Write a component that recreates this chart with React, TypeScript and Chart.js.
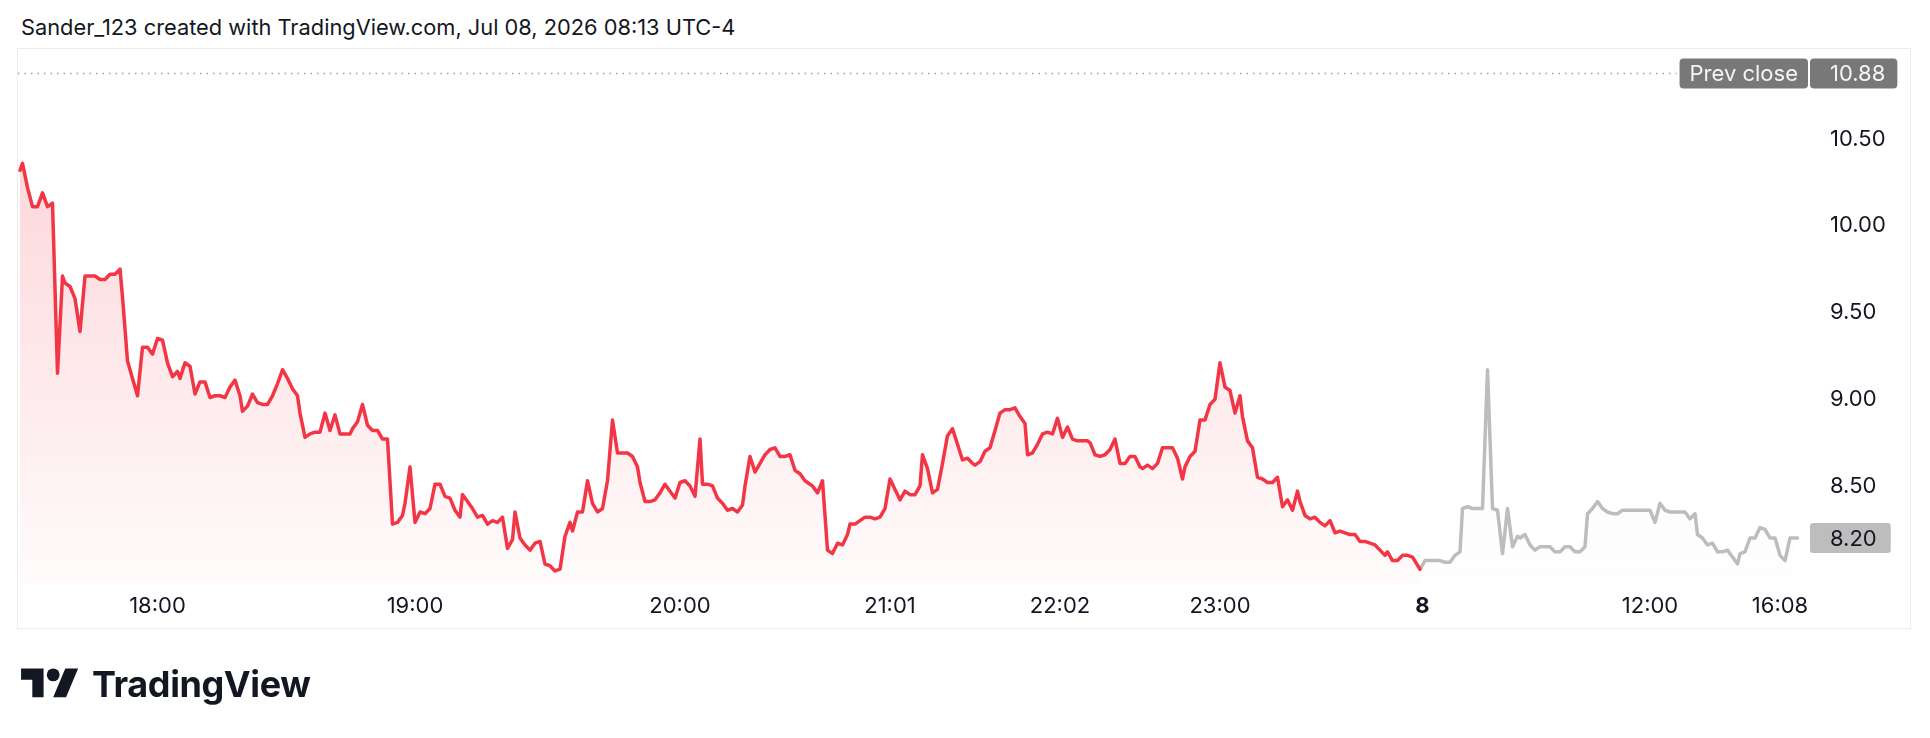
import React, { useEffect, useRef } from 'react';
import { Chart, registerables } from 'chart.js';

Chart.register(...registerables);

// Bar index (x) and price (y) of the regular part of the line
const redX = [0, 1, 3, 5, 7, 9, 11, 13, 15, 17, 18, 20, 22, 24, 26, 30, 32, 34, 36, 38, 40, 41, 43, 45, 47, 49, 51, 53, 55, 57, 59, 61, 63, 64, 66, 68, 70, 72, 74, 76, 78, 80, 82, 84, 86, 88, 89, 91, 93, 95, 97, 99, 101, 103, 105, 107, 109, 111, 112, 114, 116, 118, 120, 122, 124, 126, 128, 130, 132, 133, 135, 137, 139, 141, 143, 145, 147, 149, 151, 153, 154, 156, 158, 160, 162, 164, 166, 168, 170, 172, 174, 176, 177, 179, 181, 183, 185, 187, 189, 191, 193, 195, 197, 198, 200, 202, 204, 206, 208, 210, 212, 214, 216, 218, 220, 221, 223, 225, 227, 229, 231, 233, 235, 237, 239, 241, 243, 245, 247, 248, 250, 252, 254, 256, 258, 260, 262, 264, 266, 268, 270, 272, 273, 275, 277, 279, 281, 283, 285, 287, 289, 290, 292, 294, 296, 298, 300, 302, 304, 306, 308, 310, 312, 314, 315, 317, 319, 321, 323, 325, 327, 329, 331, 332, 334, 336, 338, 340, 342, 344, 346, 348, 350, 352, 354, 356, 358, 360, 361, 363, 365, 367, 369, 371, 373, 375, 377, 379, 381, 382, 384, 386, 388, 390, 392, 394, 396, 398, 400, 402, 403, 405, 407, 409, 411, 413, 415, 417, 419, 421, 423, 427, 428, 430, 432, 434, 436, 438, 440, 442, 444, 446, 448, 449, 451, 453, 455, 457, 459, 461, 463, 465, 466, 468, 470, 472, 474, 476, 478, 480, 482, 484, 486, 488, 489, 491, 493, 495, 497, 499, 501, 503, 505, 507, 509, 511, 512, 514, 516, 518, 520, 522, 524, 526, 528, 530, 532, 534, 536, 538, 540, 542, 544, 546, 547, 549, 551, 553, 555, 557, 560];
const redY = [10.32, 10.36, 10.22, 10.11, 10.11, 10.19, 10.11, 10.13, 9.15, 9.71, 9.67, 9.65, 9.58, 9.39, 9.71, 9.71, 9.69, 9.69, 9.72, 9.72, 9.75, 9.59, 9.22, 9.12, 9.02, 9.30, 9.30, 9.26, 9.35, 9.34, 9.21, 9.13, 9.16, 9.12, 9.21, 9.19, 9.03, 9.10, 9.10, 9.01, 9.02, 9.02, 9.01, 9.07, 9.11, 9.02, 8.93, 8.96, 9.03, 8.98, 8.97, 8.97, 9.02, 9.09, 9.17, 9.12, 9.06, 9.02, 8.92, 8.78, 8.80, 8.81, 8.81, 8.92, 8.82, 8.91, 8.80, 8.80, 8.80, 8.83, 8.87, 8.97, 8.85, 8.82, 8.82, 8.77, 8.77, 8.28, 8.29, 8.33, 8.40, 8.61, 8.29, 8.35, 8.34, 8.37, 8.51, 8.51, 8.44, 8.43, 8.36, 8.32, 8.45, 8.41, 8.37, 8.32, 8.33, 8.28, 8.30, 8.29, 8.32, 8.14, 8.19, 8.35, 8.20, 8.16, 8.13, 8.17, 8.18, 8.05, 8.04, 8.01, 8.02, 8.21, 8.29, 8.24, 8.35, 8.35, 8.53, 8.40, 8.35, 8.37, 8.53, 8.88, 8.69, 8.69, 8.69, 8.67, 8.61, 8.52, 8.41, 8.41, 8.42, 8.46, 8.51, 8.47, 8.43, 8.52, 8.53, 8.50, 8.44, 8.77, 8.51, 8.51, 8.50, 8.43, 8.40, 8.36, 8.37, 8.35, 8.39, 8.50, 8.67, 8.58, 8.63, 8.68, 8.71, 8.72, 8.67, 8.67, 8.68, 8.59, 8.57, 8.53, 8.52, 8.50, 8.46, 8.53, 8.13, 8.11, 8.17, 8.16, 8.22, 8.28, 8.28, 8.30, 8.32, 8.32, 8.31, 8.32, 8.37, 8.54, 8.48, 8.42, 8.47, 8.45, 8.45, 8.50, 8.68, 8.60, 8.46, 8.48, 8.63, 8.79, 8.83, 8.74, 8.65, 8.66, 8.63, 8.62, 8.64, 8.70, 8.72, 8.82, 8.92, 8.94, 8.94, 8.95, 8.90, 8.86, 8.68, 8.69, 8.74, 8.80, 8.81, 8.80, 8.89, 8.78, 8.84, 8.77, 8.76, 8.76, 8.75, 8.68, 8.67, 8.68, 8.71, 8.77, 8.63, 8.63, 8.67, 8.67, 8.61, 8.60, 8.62, 8.60, 8.63, 8.72, 8.72, 8.72, 8.66, 8.54, 8.61, 8.67, 8.70, 8.88, 8.88, 8.97, 9.00, 9.21, 9.07, 9.05, 8.92, 9.02, 8.90, 8.76, 8.72, 8.55, 8.54, 8.52, 8.52, 8.55, 8.38, 8.42, 8.36, 8.47, 8.41, 8.33, 8.31, 8.32, 8.29, 8.27, 8.30, 8.23, 8.24, 8.23, 8.22, 8.22, 8.18, 8.18, 8.17, 8.16, 8.13, 8.10, 8.12, 8.07, 8.07, 8.10, 8.10, 8.09, 8.02];

// Bar index (x) and price (y) of the grey part of the line
const grayX = [560, 562, 564, 566, 568, 570, 572, 574, 576, 577, 579, 581, 585, 587, 589, 591, 593, 595, 597, 599, 600, 602, 604, 606, 608, 610, 612, 614, 616, 618, 620, 622, 624, 626, 627, 629, 631, 633, 635, 637, 639, 641, 644, 648, 652, 654, 656, 658, 660, 663, 666, 668, 670, 671, 673, 675, 677, 679, 681, 683, 685, 687, 688, 690, 692, 694, 696, 698, 700, 702, 704, 706, 708, 711];
const grayY = [8.02, 8.07, 8.07, 8.07, 8.07, 8.06, 8.06, 8.10, 8.12, 8.37, 8.38, 8.37, 8.37, 9.17, 8.37, 8.36, 8.11, 8.37, 8.15, 8.21, 8.20, 8.22, 8.16, 8.13, 8.15, 8.15, 8.15, 8.12, 8.12, 8.15, 8.15, 8.12, 8.12, 8.15, 8.34, 8.37, 8.41, 8.37, 8.35, 8.34, 8.34, 8.36, 8.36, 8.36, 8.36, 8.29, 8.40, 8.36, 8.35, 8.35, 8.35, 8.31, 8.34, 8.22, 8.20, 8.16, 8.17, 8.12, 8.12, 8.13, 8.09, 8.05, 8.11, 8.12, 8.20, 8.20, 8.26, 8.25, 8.20, 8.20, 8.10, 8.07, 8.20, 8.20];

// Time axis tick positions (bar index) and labels
const xTickIdx = [55, 158, 264, 348, 416, 480, 561, 652, 704];
const xTickLabels = ['18:00', '19:00', '20:00', '21:01', '22:02', '23:00', '8', '12:00', '16:08'];
const boldTickLabel = '8';

// Price axis ticks
const yTicks = [8.5, 9.0, 9.5, 10.0, 10.5];

const prevClose = 10.88;
const lastPrice = 8.2;
const prevCloseLabel = 'Prev close';

const FONT = 'Inter, "Noto Sans", sans-serif';
const RED = '#F23645';
const GREY = '#BDBDBD';

const tagsPlugin = {
  id: 'tags',
  afterDatasetsDraw(chart: any) {
    const { ctx, chartArea, scales } = chart;
    const ys = scales.y;
    ctx.save();
    ctx.font = `22px ${FONT}`;
    ctx.textBaseline = 'middle';
    const boxH = 30;

    // Prev close line + tags
    const py = Math.round(ys.getPixelForValue(prevClose)) + 0.5;
    const lw = ctx.measureText(prevCloseLabel).width;
    const vText = prevClose.toFixed(2);
    const vw = ctx.measureText(vText).width;
    const tagLeft = chartArea.right;
    const labelRight = tagLeft - 2;
    const labelLeft = labelRight - lw - 20;
    ctx.strokeStyle = '#9a9da6';
    ctx.lineWidth = 1.5;
    ctx.setLineDash([1.5, 5]);
    ctx.beginPath();
    ctx.moveTo(chartArea.left - 2, py);
    ctx.lineTo(labelLeft - 3, py);
    ctx.stroke();
    ctx.setLineDash([]);

    ctx.fillStyle = '#787878';
    ctx.beginPath();
    ctx.roundRect(labelLeft, py - boxH / 2, lw + 20, boxH, 4);
    ctx.fill();
    ctx.beginPath();
    ctx.roundRect(tagLeft, py - boxH / 2, vw + 32, boxH, 4);
    ctx.fill();
    ctx.fillStyle = '#f4f4f4';
    ctx.textAlign = 'left';
    ctx.fillText(prevCloseLabel, labelLeft + 10, py + 1);
    ctx.fillText(vText, tagLeft + 20, py + 1);

    // Last price tag
    const ly = ys.getPixelForValue(lastPrice);
    const lText = lastPrice.toFixed(2);
    const ltw = ctx.measureText(lText).width;
    ctx.fillStyle = GREY;
    ctx.beginPath();
    ctx.roundRect(tagLeft, ly - boxH / 2, ltw + 34, boxH, 3);
    ctx.fill();
    ctx.fillStyle = '#131722';
    ctx.fillText(lText, tagLeft + 20, ly + 1);
    ctx.restore();
  },
};

function gradient(chart: any, top: string, bottom: string) {
  const { ctx, chartArea } = chart;
  if (!chartArea) return top;
  const g = ctx.createLinearGradient(0, chartArea.top + 100, 0, chartArea.bottom);
  g.addColorStop(0, top);
  g.addColorStop(1, bottom);
  return g;
}

export default function App() {
  const ref = useRef<HTMLCanvasElement | null>(null);

  useEffect(() => {
    if (!ref.current) return;
    const chart = new Chart(ref.current, {
      type: 'line',
      data: {
        datasets: [
          {
            data: redX.map((x, i) => ({ x, y: redY[i] })),
            borderColor: RED,
            borderWidth: 3.5,
            borderJoinStyle: 'round',
            borderCapStyle: 'round',
            pointRadius: 0,
            tension: 0,
            fill: 'start',
            clip: 6,
            backgroundColor: (c: any) => gradient(c.chart, 'rgba(242,54,69,0.20)', 'rgba(242,54,69,0.02)'),
          },
          {
            data: grayX.map((x, i) => ({ x, y: grayY[i] })),
            borderColor: GREY,
            borderWidth: 3.5,
            borderJoinStyle: 'round',
            borderCapStyle: 'round',
            pointRadius: 0,
            tension: 0,
            fill: 'start',
            clip: 6,
            backgroundColor: (c: any) => gradient(c.chart, 'rgba(190,190,190,0.10)', 'rgba(190,190,190,0.01)'),
          },
        ],
      },
      options: {
        animation: false,
        responsive: false,
        devicePixelRatio: 1,
        events: [],
        layout: { padding: { left: 20, top: 49, right: 0, bottom: 108 } },
        plugins: { legend: { display: false }, tooltip: { enabled: false } },
        scales: {
          x: {
            type: 'linear',
            min: 0,
            max: 716,
            grid: { display: false, drawTicks: false },
            border: { display: false },
            afterBuildTicks: (s: any) => {
              s.ticks = xTickIdx.map((v) => ({ value: v }));
            },
            afterFit: (s: any) => {
              s.height = 45;
            },
            ticks: {
              autoSkip: false,
              maxRotation: 0,
              padding: 8,
              color: '#131722',
              font: (c: any) => ({
                family: FONT,
                size: 22,
                weight: xTickLabels[c.index] === boldTickLabel ? 'bold' : 'normal',
              }),
              callback: (v: any) => {
                const i = xTickIdx.indexOf(Number(v));
                return i >= 0 ? xTickLabels[i] : '';
              },
            },
          },
          y: {
            type: 'linear',
            position: 'right',
            min: 7.929,
            max: 11.019,
            grid: { display: false, drawTicks: false },
            border: { display: false },
            afterBuildTicks: (s: any) => {
              s.ticks = yTicks.map((v) => ({ value: v }));
            },
            afterFit: (s: any) => {
              s.width = 120;
            },
            ticks: {
              crossAlign: 'near',
              padding: 20,
              color: '#131722',
              font: { family: FONT, size: 22 },
              callback: (v: any) => Number(v).toFixed(2),
            },
          },
        },
      },
      plugins: [tagsPlugin],
    } as any);
    return () => chart.destroy();
  }, []);

  return (
    <div style={{ position: 'absolute', left: 0, top: 0, width: 1930, height: 738, background: '#fff', fontFamily: FONT, overflow: 'hidden' }}>
      <div style={{ position: 'absolute', left: 21, top: 13, fontSize: 21.8, lineHeight: '28px', color: '#131722', whiteSpace: 'nowrap' }}>
        Sander_123 created with TradingView.com, Jul 08, 2026 08:13 UTC-4
      </div>
      <div style={{ position: 'absolute', left: 17, top: 48, width: 1894, height: 581, border: '1px solid #ececec', boxSizing: 'border-box' }} />
      <canvas ref={ref} width={1930} height={738} style={{ position: 'absolute', left: 0, top: 0, width: 1930, height: 738 }} />
      <div style={{ position: 'absolute', left: 21, top: 662, display: 'flex', alignItems: 'center', gap: 13 }}>
        <svg width={58} height={45} viewBox="0 0 36 28">
          <path d="M14 22H7V11H0V4h14v18zM28 22h-8l7.5-18h8L28 22z" fill="#131722" />
          <circle cx={20} cy={8} r={4} fill="#131722" />
        </svg>
        <span style={{ fontSize: 36, fontWeight: 700, color: '#131722', letterSpacing: -0.4, lineHeight: '45px' }}>TradingView</span>
      </div>
    </div>
  );
}
